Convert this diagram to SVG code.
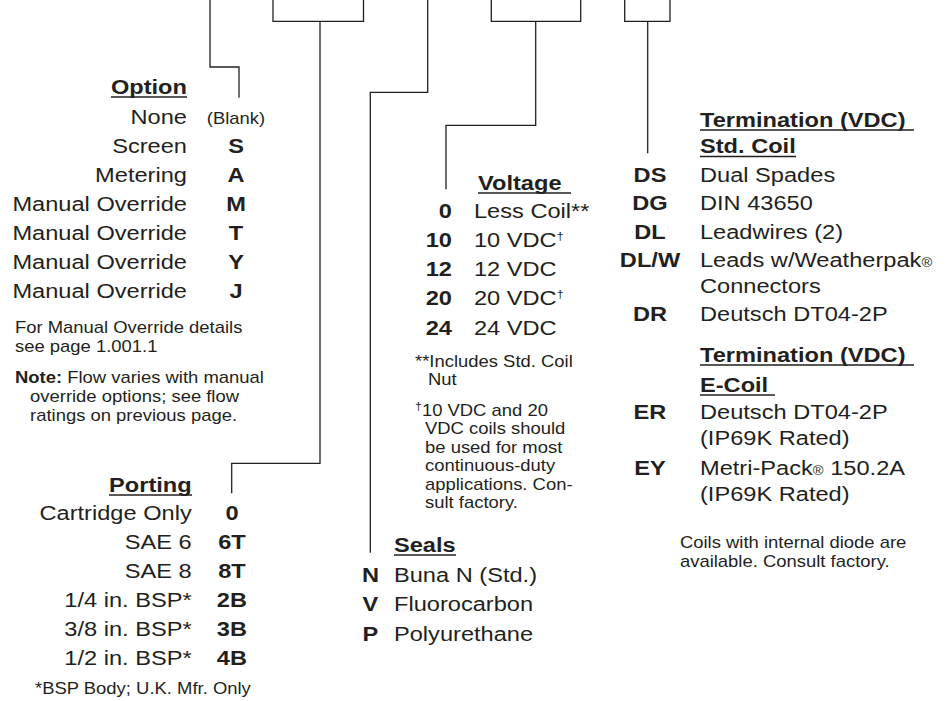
<svg xmlns="http://www.w3.org/2000/svg" width="952" height="701" viewBox="0 0 952 701">
<style>
  text { font-family: "Liberation Sans", Arial, Helvetica, sans-serif; fill: #231f20; }
  .t { font-size: 21px; }
  .b { font-size: 21px; font-weight: bold; }
  .s { font-size: 16.4px; }
  .e { text-anchor: end; }
  .m { text-anchor: middle; }
  .ul { stroke: #231f20; stroke-width: 1.4; }
  .cn { fill: none; stroke: #231f20; stroke-width: 1.3; }
  .sup { font-size: 11px; }
  .reg { font-size: 13px; }
</style>
<rect width="952" height="701" fill="#ffffff"/>

<g id="connectors">
  <path class="cn" d="M210,0 V67 H239 V97.7"/>
  <path class="cn" d="M273,0 V21.3 H363.5 V0"/>
  <path class="cn" d="M320,21.3 V463.3 H231.7 V493.3"/>
  <path class="cn" d="M427.7,0 V92.3 H370.3 V552.7"/>
  <path class="cn" d="M491.3,0 V21.3 H580.7 V0"/>
  <path class="cn" d="M535.7,21.3 V125.3 H446 V189.3"/>
  <path class="cn" d="M624.7,0 V21.3 H670 V0"/>
  <path class="cn" d="M647.7,21.3 V153.3"/>
</g>

<!-- text is drawn horizontally stretched 1.125x to match the reference lettering -->
<g id="option">
  <line class="ul" x1="111" y1="97" x2="187" y2="97"/>
  <g transform="scale(1.125 1)">
    <text class="b e" x="166.2" y="94">Option</text>
    <text class="t e" x="166.2" y="124">None</text>
    <text class="t e" x="166.2" y="153">Screen</text>
    <text class="t e" x="166.2" y="182">Metering</text>
    <text class="t e" x="166.2" y="211">Manual Override</text>
    <text class="t e" x="166.2" y="240">Manual Override</text>
    <text class="t e" x="166.2" y="269">Manual Override</text>
    <text class="t e" x="166.2" y="298">Manual Override</text>
    <text class="s m" x="209.8" y="124">(Blank)</text>
    <text class="b m" x="209.8" y="153">S</text>
    <text class="b m" x="209.8" y="182">A</text>
    <text class="b m" x="209.8" y="211">M</text>
    <text class="b m" x="209.8" y="240">T</text>
    <text class="b m" x="209.8" y="269">Y</text>
    <text class="b m" x="209.8" y="298">J</text>
    <text class="s" x="13.3" y="333">For Manual Override details</text>
    <text class="s" x="13.3" y="352.5">see page 1.001.1</text>
    <text class="s" x="13.3" y="383.3"><tspan font-weight="bold">Note:</tspan> Flow varies with manual</text>
    <text class="s" x="26.7" y="402">override options; see flow</text>
    <text class="s" x="26.7" y="421">ratings on previous page.</text>
  </g>
</g>

<g id="porting">
  <line class="ul" x1="109" y1="495" x2="192" y2="495"/>
  <g transform="scale(1.125 1)">
    <text class="b e" x="170.4" y="492">Porting</text>
    <text class="t e" x="170.4" y="520">Cartridge Only</text>
    <text class="t e" x="170.4" y="549">SAE 6</text>
    <text class="t e" x="170.4" y="578">SAE 8</text>
    <text class="t e" x="170.4" y="607">1/4 in. BSP*</text>
    <text class="t e" x="170.4" y="636">3/8 in. BSP*</text>
    <text class="t e" x="170.4" y="665">1/2 in. BSP*</text>
    <text class="b m" x="206.2" y="520">0</text>
    <text class="b m" x="206.2" y="549">6T</text>
    <text class="b m" x="206.2" y="578">8T</text>
    <text class="b m" x="206.2" y="607">2B</text>
    <text class="b m" x="206.2" y="636">3B</text>
    <text class="b m" x="206.2" y="665">4B</text>
    <text class="s" x="31.1" y="694">*BSP Body; U.K. Mfr. Only</text>
  </g>
</g>

<g id="seals">
  <line class="ul" x1="394" y1="555" x2="456" y2="555"/>
  <g transform="scale(1.125 1)">
    <text class="b" x="350.2" y="552">Seals</text>
    <text class="b m" x="329.3" y="582">N</text>
    <text class="b m" x="329.3" y="611.5">V</text>
    <text class="b m" x="329.3" y="641">P</text>
    <text class="t" x="350.2" y="582">Buna N (Std.)</text>
    <text class="t" x="350.2" y="611.5">Fluorocarbon</text>
    <text class="t" x="350.2" y="641">Polyurethane</text>
  </g>
</g>

<g id="voltage">
  <line class="ul" x1="478" y1="193" x2="571" y2="193"/>
  <g transform="scale(1.125 1)">
    <text class="b" x="424.9" y="190">Voltage</text>
    <text class="b e" x="401.8" y="218">0</text>
    <text class="b e" x="401.8" y="247">10</text>
    <text class="b e" x="401.8" y="276.5">12</text>
    <text class="b e" x="401.8" y="305.5">20</text>
    <text class="b e" x="401.8" y="335">24</text>
    <text class="t" x="421.3" y="218">Less Coil**</text>
    <text class="t" x="421.3" y="247">10 VDC<tspan class="sup" dy="-7">†</tspan></text>
    <text class="t" x="421.3" y="276.5">12 VDC</text>
    <text class="t" x="421.3" y="305.5">20 VDC<tspan class="sup" dy="-7">†</tspan></text>
    <text class="t" x="421.3" y="335">24 VDC</text>
    <text class="s" x="368.9" y="366.7">**Includes Std. Coil</text>
    <text class="s" x="380.4" y="385">Nut</text>
    <text class="s" x="368.9" y="416"><tspan class="sup" dy="-6">†</tspan><tspan dy="6">10 VDC and 20</tspan></text>
    <text class="s" x="377.8" y="434.5">VDC coils should</text>
    <text class="s" x="377.8" y="453">be used for most</text>
    <text class="s" x="377.8" y="471.5">continuous-duty</text>
    <text class="s" x="377.8" y="490">applications. Con-</text>
    <text class="s" x="377.8" y="508.5">sult factory.</text>
  </g>
</g>

<g id="termination">
  <line class="ul" x1="700" y1="130" x2="914" y2="130"/>
  <line class="ul" x1="700" y1="156.5" x2="796" y2="156.5"/>
  <line class="ul" x1="700" y1="365" x2="914" y2="365"/>
  <line class="ul" x1="700" y1="395" x2="775" y2="395"/>
  <g transform="scale(1.125 1)">
    <text class="b" x="622.2" y="126.7">Termination (VDC)</text>
    <text class="b" x="622.2" y="153.3">Std. Coil</text>
    <text class="b m" x="577.8" y="182">DS</text>
    <text class="b m" x="577.8" y="210.5">DG</text>
    <text class="b m" x="577.8" y="239">DL</text>
    <text class="b m" x="577.8" y="267.5">DL/W</text>
    <text class="b m" x="577.8" y="321">DR</text>
    <text class="t" x="622.2" y="182">Dual Spades</text>
    <text class="t" x="622.2" y="210.5">DIN 43650</text>
    <text class="t" x="622.2" y="239">Leadwires (2)</text>
    <text class="t" x="622.2" y="267.5">Leads w/Weatherpak<tspan class="reg">®</tspan></text>
    <text class="t" x="622.2" y="293.5">Connectors</text>
    <text class="t" x="622.2" y="321">Deutsch DT04-2P</text>
    <text class="b" x="622.2" y="361.7">Termination (VDC)</text>
    <text class="b" x="622.2" y="391.7">E-Coil</text>
    <text class="b m" x="577.8" y="419">ER</text>
    <text class="b m" x="577.8" y="475">EY</text>
    <text class="t" x="622.2" y="419">Deutsch DT04-2P</text>
    <text class="t" x="622.2" y="445.5">(IP69K Rated)</text>
    <text class="t" x="622.2" y="475">Metri-Pack<tspan class="reg">®</tspan> 150.2A</text>
    <text class="t" x="622.2" y="501">(IP69K Rated)</text>
    <text class="s" x="604.4" y="548">Coils with internal diode are</text>
    <text class="s" x="604.4" y="567.5">available. Consult factory.</text>
  </g>
</g>
</svg>
